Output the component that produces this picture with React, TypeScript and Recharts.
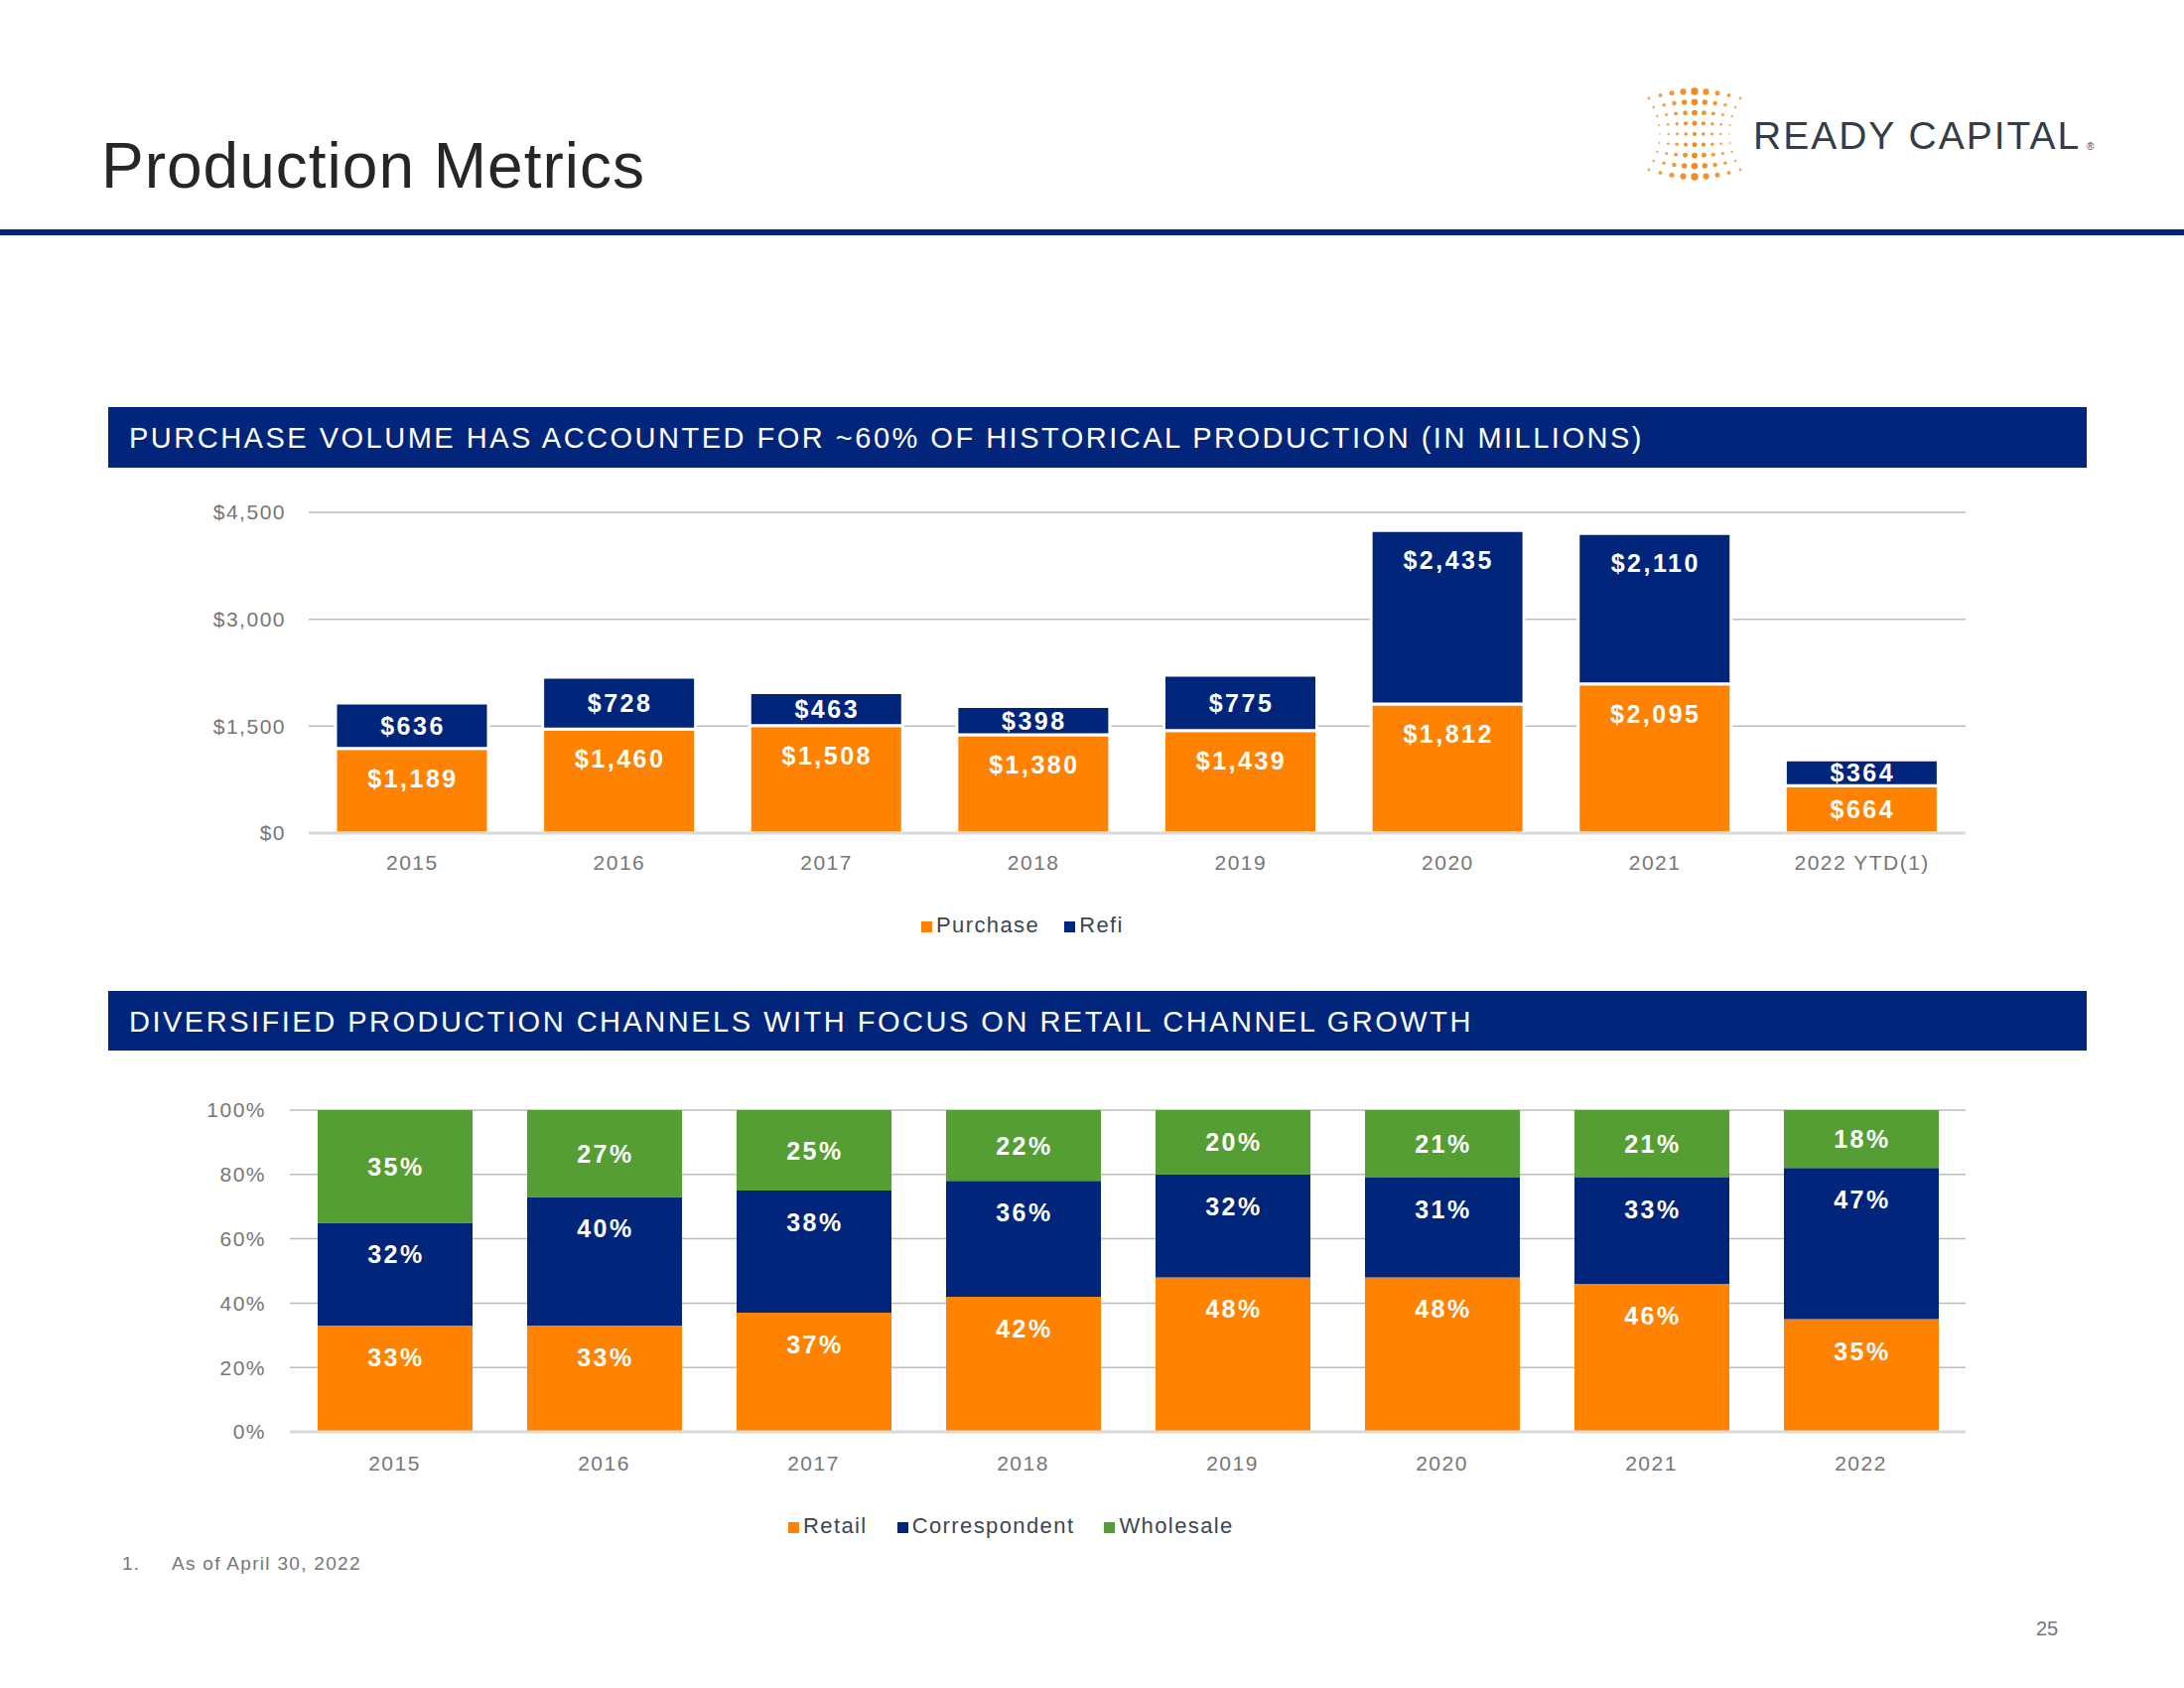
import React from "react";
import { BarChart, Bar, XAxis, YAxis, CartesianGrid, LabelList } from "recharts";

const NAVY = "#00257A";
const ORANGE = "#FF8200";
const GREEN = "#559E33";
const GRAY = "#767676";
const FONT = "'Liberation Sans', Arial, sans-serif";

// top chart: purchase vs refi volume, $ millions
const volumeYears = ["2015", "2016", "2017", "2018", "2019", "2020", "2021", "2022 YTD(1)"];
const purchase = [1189, 1460, 1508, 1380, 1439, 1812, 2095, 664];
const refi = [636, 728, 463, 398, 775, 2435, 2110, 364];
const volumeTicks = [0, 1500, 3000, 4500];

// bottom chart: channel mix, %
const channelYears = ["2015", "2016", "2017", "2018", "2019", "2020", "2021", "2022"];
const retail = [33, 33, 37, 42, 48, 48, 46, 35];
const correspondent = [32, 40, 38, 36, 32, 31, 33, 47];
const wholesale = [35, 27, 25, 22, 20, 21, 21, 18];
const pctTicks = [0, 20, 40, 60, 80, 100];

const volumeSeries = [
  { key: "purchase", name: "Purchase", color: ORANGE },
  { key: "refi", name: "Refi", color: NAVY },
];
const channelSeries = [
  { key: "retail", name: "Retail", color: ORANGE },
  { key: "correspondent", name: "Correspondent", color: NAVY },
  { key: "wholesale", name: "Wholesale", color: GREEN },
];

const volumeData = volumeYears.map((year, i) => ({ year, purchase: purchase[i], refi: refi[i] }));
const channelData = channelYears.map((year, i) => ({
  year,
  retail: retail[i],
  correspondent: correspondent[i],
  wholesale: wholesale[i],
}));

const money = (v: number) => "$" + v.toLocaleString("en-US");
const pct = (v: number) => `${v}%`;

// label sits near the top of a segment, or centred when the segment is short
const segmentLabel = (cap: number | null, fmt: (v: number) => string) => (props: any) => {
  const { x, y, width, height, value } = props;
  const mid = y + height / 2;
  const cy = cap == null ? mid : Math.min(mid, y + cap);
  return (
    <text
      x={x + width / 2 + 1}
      y={cy}
      textAnchor="middle"
      dominantBaseline="central"
      fill="#fff"
      fontSize={25}
      fontWeight="bold"
      letterSpacing={2.5}
      fontFamily={FONT}
    >
      {fmt(value)}
    </text>
  );
};

const tickStyle = { fill: GRAY, fontSize: 21, letterSpacing: 1.5, fontFamily: FONT };

function Legend({
  items,
  left,
  top,
  gap,
}: {
  items: { name: string; color: string }[];
  left: number;
  top: number;
  gap: number;
}) {
  return (
    <div
      style={{
        position: "absolute",
        left,
        top,
        display: "flex",
        alignItems: "center",
        gap,
        fontFamily: FONT,
        fontSize: 22,
        letterSpacing: 1.4,
        color: "#3B4653",
        lineHeight: "24px",
      }}
    >
      {items.map((s) => (
        <div key={s.name} style={{ display: "flex", alignItems: "center", gap: 4 }}>
          <span style={{ width: 11, height: 11, background: s.color, display: "inline-block", marginTop: 2 }} />
          <span>{s.name}</span>
        </div>
      ))}
    </div>
  );
}

function Logo() {
  const dots: React.ReactNode[] = [];
  const cx = 1707;
  const cy = 135;
  for (let r = 0; r < 9; r++) {
    const t = (r - 4) / 4;
    const spread = 46 * (0.76 + 0.24 * t * t);
    for (let c = -4; c <= 4; c++) {
      const u = c / 4;
      const x = cx + u * spread;
      const y = cy + t * (36 + 7 * (1 - u * u));
      const rad = (1.1 + 1.7 * (1 - Math.abs(u))) * (0.75 + 0.55 * Math.abs(t));
      dots.push(<circle key={`${r}-${c}`} cx={x} cy={y} r={rad} fill="#F28A1E" opacity={0.75 + 0.25 * (1 - Math.abs(u))} />);
    }
  }
  return (
    <g>
      {dots}
      <text x={1766} y={150} fontSize={39} fill="#333D47" fontFamily={FONT} letterSpacing={2}>
        READY CAPITAL
      </text>
      <text x={2102} y={151} fontSize={10} fill="#333D47" fontFamily={FONT}>
        ®
      </text>
    </g>
  );
}

export default function App() {
  return (
    <div style={{ position: "absolute", left: 0, top: 0, width: 2200, height: 1700, background: "#fff", fontFamily: FONT }}>
      <svg width={2200} height={1700} style={{ position: "absolute", left: 0, top: 0 }}>
        <text x={102} y={189} fontSize={64} fill="#262626" letterSpacing={1} fontFamily={FONT}>
          Production Metrics
        </text>
        <Logo />
        <rect x={0} y={231} width={2200} height={6} fill={NAVY} />
        <rect x={109} y={410} width={1993} height={61} fill={NAVY} />
        <text x={130} y={441} dominantBaseline="central" fill="#fff" fontSize={29} letterSpacing={2.5} fontFamily={FONT}>
          PURCHASE VOLUME HAS ACCOUNTED FOR ~60% OF HISTORICAL PRODUCTION (IN MILLIONS)
        </text>
        <rect x={109} y={998} width={1993} height={60} fill={NAVY} />
        <text x={130} y={1029} dominantBaseline="central" fill="#fff" fontSize={29} letterSpacing={2.5} fontFamily={FONT}>
          DIVERSIFIED PRODUCTION CHANNELS WITH FOCUS ON RETAIL CHANNEL GROWTH
        </text>
        <text x={123} y={1581} fontSize={19} fill={GRAY} letterSpacing={1.3} fontFamily={FONT}>
          1.
        </text>
        <text x={173} y={1581} fontSize={19} fill={GRAY} letterSpacing={1.3} fontFamily={FONT}>
          As of April 30, 2022
        </text>
        <text x={2051} y={1647} fontSize={20} fill={GRAY} fontFamily={FONT}>
          25
        </text>
      </svg>

      <div style={{ position: "absolute", left: 0, top: 480 }}>
        <BarChart width={2200} height={420} data={volumeData} margin={{ top: 36, right: 220, bottom: 31, left: 0 }}>
          <CartesianGrid vertical={false} stroke="#BDBDBD" strokeWidth={1.5} />
          <XAxis
            dataKey="year"
            tickLine={false}
            tickSize={0}
            tickMargin={22}
            axisLine={{ stroke: "#D9D9D9", strokeWidth: 3 }}
            tick={tickStyle}
            interval={0}
          />
          <YAxis
            width={311}
            domain={[0, 4500]}
            ticks={volumeTicks}
            tickFormatter={money}
            axisLine={false}
            tickLine={false}
            tickSize={0}
            tickMargin={23}
            tick={tickStyle}
          />
          {volumeSeries.map((s) => (
            <Bar
              key={s.key}
              dataKey={s.key}
              name={s.name}
              stackId="v"
              fill={s.color}
              stroke="#fff"
              strokeWidth={3}
              barSize={154}
              isAnimationActive={false}
            >
              <LabelList dataKey={s.key} content={segmentLabel(30, money)} />
            </Bar>
          ))}
        </BarChart>
      </div>
      <Legend items={volumeSeries} left={928} top={920} gap={25} />

      <div style={{ position: "absolute", left: 0, top: 1090 }}>
        <BarChart width={2200} height={420} data={channelData} margin={{ top: 28, right: 220, bottom: 38, left: 0 }}>
          <CartesianGrid vertical={false} stroke="#BDBDBD" strokeWidth={1.5} />
          <XAxis
            dataKey="year"
            tickLine={false}
            tickSize={0}
            tickMargin={24}
            axisLine={{ stroke: "#D9D9D9", strokeWidth: 3 }}
            tick={tickStyle}
            interval={0}
          />
          <YAxis
            width={292}
            domain={[0, 100]}
            ticks={pctTicks}
            tickFormatter={pct}
            axisLine={false}
            tickLine={false}
            tickSize={0}
            tickMargin={24}
            tick={tickStyle}
          />
          {channelSeries.map((s) => (
            <Bar
              key={s.key}
              dataKey={s.key}
              name={s.name}
              stackId="c"
              fill={s.color}
              barSize={156}
              isAnimationActive={false}
            >
              <LabelList dataKey={s.key} content={segmentLabel(s.key === "wholesale" ? null : 32, pct)} />
            </Bar>
          ))}
        </BarChart>
      </div>
      <Legend items={channelSeries} left={794} top={1525} gap={30} />
    </div>
  );
}
